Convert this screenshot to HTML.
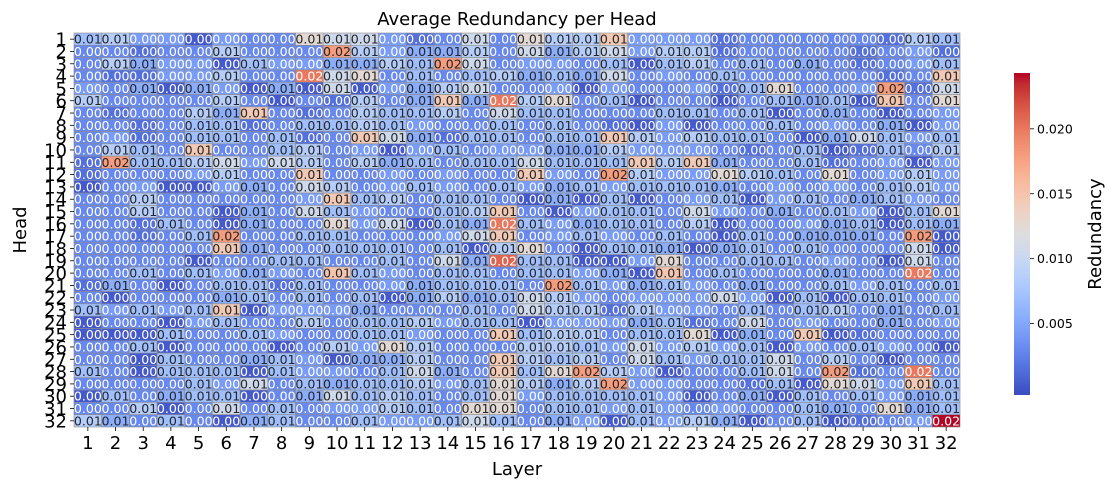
<!DOCTYPE html>
<html>
<head>
<meta charset="utf-8">
<style>
  html,body{margin:0;padding:0;background:#fff;}
  svg{display:block;font-family:"DejaVu Sans","Liberation Sans",sans-serif;}
</style>
</head>
<body>
<svg id="chart" width="1114" height="490" viewBox="0 0 1114 490">
  <text x="517" y="25" text-anchor="middle" font-size="18" fill="#000">Average Redundancy per Head</text>
  <text x="517" y="475" text-anchor="middle" font-size="18" fill="#000">Layer</text>
  <text transform="translate(26,230) rotate(-90)" text-anchor="middle" font-size="18" fill="#000">Head</text>
  <text transform="translate(1101,234) rotate(-90)" text-anchor="middle" font-size="18" fill="#000">Redundancy</text>
  <g id="cells"></g>
  <g id="xaxis"></g>
  <g id="yaxis"></g>
  <g id="cbar"></g>
</svg>
<script>
// Values in units of 1e-4 (row = head 1..32, column = layer 1..32)
const valueUnit = 1e-4;
const layers = Array.from({length:32},(_,i)=>String(i+1));
const heads = Array.from({length:32},(_,i)=>String(i+1));
const cbarTicks = [0.005, 0.010, 0.015, 0.020];
const vMin = -0.0005, vMax = 0.0243;
const head01=[70,85,43,43,3,43,30,30,125,105,105,43,15,30,105,30,125,85,85,145,43,43,43,15,30,30,30,30,30,15,85,70];
const head02=[30,30,15,30,30,85,30,30,30,180,85,43,55,55,85,30,105,55,85,105,43,85,85,15,30,30,30,30,15,30,43,15];
const head03=[30,85,55,43,43,3,70,43,43,55,55,85,70,180,105,30,43,43,30,70,3,70,85,30,70,30,55,30,15,30,43,70];
const head04=[30,15,15,43,43,85,30,30,200,105,125,30,70,30,70,85,55,70,55,105,30,43,30,70,30,30,30,30,30,15,30,145];
const head05=[43,30,55,3,55,43,3,55,3,105,3,43,55,85,105,30,30,43,3,43,30,30,43,15,70,125,30,30,43,180,15,105];
const head06=[85,30,30,30,30,85,30,3,30,15,85,30,55,145,55,200,85,125,30,70,3,30,30,3,30,70,55,70,3,148,30,125];
const head07=[30,15,30,30,85,55,145,30,15,30,85,70,70,85,30,105,70,70,30,30,30,70,70,30,70,3,30,55,30,3,30,43];
const head08=[30,30,15,30,70,70,15,30,70,70,85,70,43,30,30,70,30,70,30,15,3,43,3,30,30,70,30,43,30,55,3,43];
const head09=[30,43,15,30,70,70,30,70,15,30,145,105,55,15,70,70,30,70,70,145,85,43,85,70,70,30,3,55,105,70,43,70];
const head10=[30,85,70,30,145,30,30,70,85,30,43,3,43,70,30,43,43,55,55,85,43,43,43,30,15,30,70,3,15,70,30,85];
const head11=[15,180,70,70,85,105,43,105,85,30,85,55,70,30,70,70,105,70,70,70,145,85,145,55,30,30,70,15,30,43,3,43];
const head12=[15,30,30,30,43,85,30,30,145,30,30,43,30,43,30,30,145,43,30,180,85,43,43,125,85,70,30,125,30,43,85,43];
const head13=[3,30,43,3,3,43,55,30,105,85,30,43,70,43,30,70,43,55,70,43,70,70,70,55,30,43,30,43,30,70,85,43];
const head14=[30,30,85,30,30,30,30,30,43,145,70,85,30,70,70,30,3,55,3,70,3,30,43,70,3,43,70,30,55,70,43,30];
const head15=[30,30,85,30,30,3,55,30,105,70,43,30,30,70,85,145,30,3,43,70,70,30,105,43,30,55,30,70,43,3,70,125];
const head16=[30,30,15,70,30,3,55,30,30,125,43,105,3,70,55,200,70,43,55,70,70,30,85,3,30,30,43,55,70,3,70,55];
const head17=[30,30,15,30,70,180,30,30,70,70,30,30,30,43,105,145,30,43,70,43,30,70,30,3,70,30,55,55,55,30,180,3];
const head18=[30,30,30,30,30,145,55,30,30,70,70,70,30,70,3,85,125,30,3,70,70,55,3,55,70,30,70,30,30,30,105,3];
const head19=[30,30,30,30,3,30,30,70,70,30,30,70,30,105,55,210,70,70,3,3,43,125,30,30,70,70,30,43,30,3,105,30];
const head20=[30,30,70,30,70,43,55,43,30,148,70,43,30,70,70,30,70,70,43,55,3,148,30,70,30,30,30,55,30,30,200,30];
const head21=[15,55,30,3,30,70,70,15,70,30,30,43,55,70,70,70,30,180,70,43,55,70,43,30,55,30,30,70,43,70,30,70];
const head22=[30,3,30,30,30,55,70,30,70,30,70,3,55,85,55,70,105,85,43,30,43,43,43,105,43,3,70,3,70,70,30,43];
const head23=[70,43,70,43,70,145,3,43,43,43,55,30,30,30,70,30,105,85,85,15,85,43,43,30,70,30,70,85,30,55,30,70];
const head24=[3,30,30,3,43,70,30,30,85,30,70,70,85,43,70,70,3,43,43,43,55,70,15,30,105,30,43,30,30,55,30,43];
const head25=[3,3,3,70,30,30,70,43,30,30,70,70,43,30,30,145,70,85,85,30,70,70,125,3,55,30,145,3,15,30,30,30];
const head26=[30,30,70,3,30,30,30,3,30,85,43,125,85,30,30,30,85,85,70,43,105,43,85,43,70,3,43,30,70,43,30,3];
const head27=[30,30,3,70,30,30,55,70,43,3,55,55,85,30,30,145,85,70,85,30,105,70,43,70,70,105,30,85,30,3,30,30];
const head28=[70,30,3,70,70,70,3,70,43,43,30,70,105,55,30,145,70,125,180,85,43,3,30,30,70,105,30,180,15,30,200,30];
const head29=[30,30,30,30,70,43,105,30,70,55,70,70,85,43,70,125,85,55,85,180,43,43,30,30,15,70,3,125,105,43,145,70];
const head30=[3,70,30,55,70,70,3,30,55,105,70,85,70,30,70,125,43,70,70,70,70,43,3,30,55,3,70,30,70,43,55,70];
const head31=[30,30,85,3,30,105,30,70,30,43,43,85,70,30,125,125,30,70,70,43,70,43,30,43,30,30,70,55,30,125,55,70];
const head32=[85,55,30,70,30,3,55,70,30,30,70,43,43,70,105,70,30,55,43,3,70,43,85,55,3,30,70,3,15,30,43,243];
const matrix=[head01,head02,head03,head04,head05,head06,head07,head08,head09,head10,head11,head12,head13,head14,head15,head16,head17,head18,head19,head20,head21,head22,head23,head24,head25,head26,head27,head28,head29,head30,head31,head32];

const NS="http://www.w3.org/2000/svg";
const plotL=74, plotT=33, plotW=886, plotH=394;
const cellW=plotW/layers.length, cellH=plotH/heads.length;
const xPos=i=>plotL+i*cellW;
const yPos=j=>plotT+j*cellH;
const cbX=1014, cbW=16, cbTop=73, cbBot=395;
const cbY=v=>cbBot-(v-vMin)/(vMax-vMin)*(cbBot-cbTop);

const cw=[[59,76,192],[68,90,204],[77,104,215],[87,117,225],[98,130,234],[108,142,241],[119,154,247],[130,165,251],[141,176,254],[152,185,255],[163,194,255],[174,201,253],[184,208,249],[194,213,244],[204,217,238],[213,219,230],[221,221,221],[229,216,209],[236,211,197],[241,204,185],[245,196,173],[247,187,160],[247,177,148],[247,166,135],[244,154,123],[241,141,111],[236,127,99],[229,112,88],[222,96,77],[213,80,66],[203,62,56],[192,40,47],[180,4,38]];
function cmap(t){
  t=Math.max(0,Math.min(1,t))*32;
  const i=Math.min(31,Math.floor(t)), f=t-i;
  return cw[i].map((c,k)=>Math.round(c+(cw[i+1][k]-c)*f));
}
function lum(rgb){
  const c=rgb.map(v=>{v/=255;return v<=0.03928?v/12.92:Math.pow((v+0.055)/1.055,2.4);});
  return 0.2126*c[0]+0.7152*c[1]+0.0722*c[2];
}
function el(tag,attrs,parent){
  const e=document.createElementNS(NS,tag);
  for(const k in attrs)e.setAttribute(k,attrs[k]);
  parent.appendChild(e);return e;
}
const gCells=document.getElementById('cells');
matrix.forEach((row,j)=>{
  row.forEach((raw,i)=>{
    const v=raw*valueUnit;
    const rgb=cmap((v-vMin)/(vMax-vMin));
    const r=el('rect',{x:xPos(i),y:yPos(j),width:cellW,height:cellH,fill:`rgb(${rgb})`,stroke:'#8c8c8c','stroke-width':0.6},gCells);
    
    
    const t=el('text',{x:xPos(i)+cellW/2,y:yPos(j)+cellH/2+4.5,'text-anchor':'middle','font-size':12,textLength:28,lengthAdjust:'spacingAndGlyphs',fill:lum(rgb)>0.408?'#262626':'#ffffff'},gCells);
    t.textContent=v.toFixed(2);
    
    
  });
});
const gx=document.getElementById('xaxis');
layers.forEach((lab,i)=>{
  const cx=xPos(i)+cellW/2;
  const l=el('line',{x1:cx,x2:cx,y1:plotT+plotH,y2:plotT+plotH+4,stroke:'#000','stroke-width':0.8},gx);
  
  
  const t=el('text',{x:cx,y:plotT+plotH+22,'text-anchor':'middle','font-size':18,fill:'#000'},gx);
  t.textContent=lab;
  
  
});
const gy=document.getElementById('yaxis');
heads.forEach((lab,j)=>{
  const cy=yPos(j)+cellH/2;
  const l=el('line',{x1:plotL-4,x2:plotL,y1:cy,y2:cy,stroke:'#000','stroke-width':0.8},gy);
  
  
  const t=el('text',{x:plotL-7,y:cy+6.5,'text-anchor':'end','font-size':18,fill:'#000'},gy);
  t.textContent=lab;
  
  
});
const gc=document.getElementById('cbar');
const defs=el('defs',{},gc);
const grad=el('linearGradient',{id:'cbgrad',x1:0,y1:1,x2:0,y2:0},defs);
cw.forEach((c,k)=>{el('stop',{offset:(k/32),'stop-color':`rgb(${c})`},grad);});
const bar=el('rect',{x:cbX,y:cbTop,width:cbW,height:cbBot-cbTop,fill:'url(#cbgrad)'},gc);


cbarTicks.forEach(v=>{
  const y=cbY(v);
  const l=el('line',{x1:cbX+cbW,x2:cbX+cbW+4,y1:y,y2:y,stroke:'#000','stroke-width':0.8},gc);
  
  
  const t=el('text',{x:cbX+cbW+7,y:y+4.5,'font-size':12.5,fill:'#000'},gc);
  t.textContent=v.toFixed(3);
  
  
});
</script>
</body>
</html>
